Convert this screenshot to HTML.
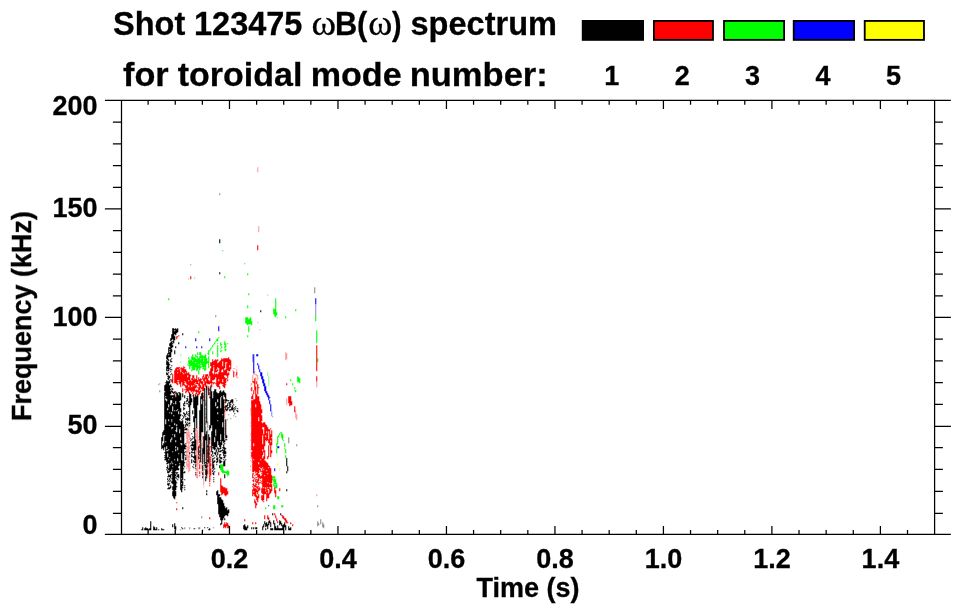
<!DOCTYPE html>
<html lang="en"><head><meta charset="utf-8"><title>Shot 123475 spectrum</title>
<style>html,body{margin:0;padding:0;background:#fff}svg{display:block}</style></head>
<body>
<svg width="963" height="615" viewBox="0 0 963 615">
<rect width="963" height="615" fill="#fff"/>
<g id="spectrum" transform="translate(0.25 0.2)"><path d="M158.5 384v1M159.5 383v1M159.5 390v2M171.5 420v7M171.5 428v4M171.5 433v2M171.5 436v2M171.5 439v2M171.5 442v6M171.5 451v7M171.5 459v6M171.5 466v4M180.5 529v1M184.5 527v2M189.5 527v2M190.5 264v1M193.5 528v1M198.5 527v2M199.5 527v2M201.5 516v2M202.5 529v2M204.5 464v1M204.5 466v1M204.5 468v2M205.5 400v1M205.5 402v4M205.5 408v2M205.5 411v1M205.5 413v2M205.5 416v3M205.5 420v5M205.5 426v8M205.5 435v5M207.5 421v7M207.5 429v4M207.5 434v7M207.5 442v1M207.5 444v9M207.5 454v4M207.5 459v3M207.5 463v4M207.5 468v2M213.5 527v1M215.5 315v2M215.5 429v1M215.5 433v1M215.5 435v1M215.5 447v1M215.5 450v2M219.5 193v2M227.5 407v1M227.5 419v1M228.5 400v1M228.5 414v1M229.5 406v2M230.5 402v1M230.5 404v1M230.5 410v1M230.5 418v1M231.5 408v1M232.5 403v1M232.5 409v1M233.5 415v1M235.5 398v1M235.5 416v1M236.5 400v1M237.5 411v1M288.5 437v6M296.5 444v2M314.5 287v6M317.5 505v2M317.5 521v5M318.5 523v2M320.5 519v5M322.5 522v5M323.5 524v4" stroke="#8a8a8a" stroke-width="1.06" fill="none"/>
<path d="M186.5 431v8M186.5 440v4M186.5 445v3M186.5 449v11M186.5 461v5M186.5 467v2M187.5 428v3M187.5 432v11M187.5 446v7M187.5 454v4M187.5 459v3M187.5 463v4M188.5 426v2M188.5 429v8M188.5 439v1M188.5 441v12M188.5 455v17M189.5 432v1M189.5 434v6M189.5 441v3M189.5 446v3M189.5 450v1M189.5 454v4M189.5 459v1M189.5 461v10M195.5 428v3M195.5 433v5M195.5 451v1M195.5 453v1M195.5 463v1M195.5 467v1M195.5 470v1M195.5 473v1M195.5 475v1M196.5 428v11M196.5 440v25M196.5 468v3M196.5 472v6M197.5 428v1M197.5 430v15M197.5 446v7M197.5 454v19M197.5 474v4M198.5 436v1M198.5 439v2M198.5 442v1M198.5 445v1M198.5 455v1M198.5 459v1M198.5 463v1M198.5 468v1M201.5 432v5M201.5 440v1M201.5 443v3M201.5 447v2M201.5 450v1M201.5 453v4M201.5 458v1M201.5 461v2M201.5 464v5M201.5 471v2M202.5 436v4M202.5 441v7M203.5 455v2M203.5 458v4M203.5 464v2M203.5 467v1M203.5 469v1M203.5 471v6M203.5 478v7M203.5 486v1M210.5 455v7M210.5 463v8M210.5 474v3M210.5 478v2M224.5 412v6M224.5 420v1M224.5 423v1M224.5 425v1M224.5 427v3M224.5 431v1M224.5 433v2M224.5 438v2M232.5 370v1M233.5 368v1M234.5 368v1M234.5 372v1M235.5 374v2M236.5 366v1M236.5 369v9M237.5 377v1M250.5 383v1M250.5 385v1M250.5 388v2M250.5 408v3M250.5 412v1M250.5 414v1M250.5 422v1M250.5 425v1M250.5 433v1M250.5 435v1M250.5 439v2M250.5 446v1M250.5 449v1M250.5 452v1M250.5 455v1M250.5 457v1M250.5 460v1M250.5 465v2M250.5 469v1M251.5 383v2M251.5 387v1M251.5 393v1M251.5 401v3M251.5 414v1M251.5 431v3M251.5 437v1M251.5 443v1M251.5 448v1M251.5 451v3M251.5 455v1M251.5 457v2M251.5 461v1M252.5 375v7M253.5 373v2M254.5 371v3M254.5 382v4M255.5 374v1M255.5 377v7M256.5 374v2M257.5 167v5M257.5 322v1M257.5 375v5M257.5 384v3M258.5 226v6M259.5 329v1M285.5 352v8M286.5 353v6M286.5 398v7M295.5 410v8M296.5 414v6M316.5 381v6M316.5 494v2" stroke="#ff9a9a" stroke-width="1.06" fill="none"/>
<path d="M252.5 354v8M270.5 410v1M271.5 411v5M272.5 416v1M315.5 304v11" stroke="#8a8aff" stroke-width="1.06" fill="none"/>
<path d="M180.5 354v2M180.5 361v2M188.5 278v2M194.5 277v2M267.5 294v2M267.5 372v4M268.5 376v10M276.5 317v1M277.5 317v1" stroke="#8aff8a" stroke-width="1.06" fill="none"/>
<path d="M256.5 493v2M274.5 439v1M277.5 463v2M279.5 468v2" stroke="#ff0" stroke-width="1.06" fill="none"/>
<path d="M185.5 346v2M195.5 338v3M196.5 346v2M201.5 346v2M209.5 338v3M218.5 326v5M253.5 354v19M256.5 354v2M257.5 354v2M257.5 363v2M258.5 365v4M259.5 369v3M260.5 372v4M261.5 372v7M262.5 376v7M263.5 379v7M264.5 383v8M265.5 386v7M266.5 391v4M267.5 393v4M268.5 395v5M268.5 505v1M269.5 397v1M269.5 400v4M270.5 404v7M274.5 468v3M277.5 446v2M278.5 446v2M315.5 298v6" stroke="#00f" stroke-width="1.06" fill="none"/>
<path d="M168.5 298v2M187.5 364v1M188.5 357v2M188.5 360v4M188.5 365v1M189.5 359v10M190.5 360v6M191.5 356v10M191.5 367v1M191.5 369v2M192.5 354v6M192.5 361v9M193.5 357v13M194.5 357v13M195.5 354v3M195.5 358v4M195.5 363v4M196.5 356v1M196.5 359v12M197.5 352v3M197.5 356v14M198.5 331v2M198.5 358v6M198.5 365v3M198.5 370v4M199.5 352v3M199.5 356v14M200.5 352v6M200.5 359v4M200.5 364v1M200.5 366v2M201.5 355v10M201.5 366v1M202.5 355v12M202.5 368v1M203.5 356v2M203.5 359v1M203.5 361v8M204.5 355v12M204.5 368v3M205.5 354v16M206.5 358v6M207.5 353v1M207.5 361v2M208.5 350v5M208.5 356v12M209.5 350v1M210.5 348v2M211.5 347v1M212.5 345v2M212.5 351v3M213.5 344v1M214.5 342v2M215.5 341v1M216.5 339v2M217.5 338v3M217.5 343v1M217.5 345v12M218.5 337v1M220.5 342v4M220.5 348v1M220.5 350v2M220.5 464v6M221.5 344v1M221.5 346v2M221.5 350v1M221.5 464v8M222.5 250v1M222.5 464v9M223.5 470v3M224.5 276v2M224.5 341v4M224.5 346v2M224.5 349v1M224.5 471v2M225.5 343v4M225.5 348v3M225.5 471v2M226.5 471v3M227.5 343v1M227.5 470v6M228.5 471v4M244.5 263v1M245.5 317v6M246.5 317v7M247.5 273v2M247.5 305v3M247.5 317v8M247.5 335v2M248.5 293v2M248.5 319v5M248.5 326v6M249.5 318v6M250.5 317v7M251.5 321v4M265.5 507v2M272.5 476v4M273.5 308v6M273.5 476v2M273.5 479v3M273.5 483v3M273.5 505v4M274.5 309v7M274.5 476v8M274.5 485v2M274.5 488v1M274.5 505v4M275.5 298v19M275.5 479v5M275.5 485v3M276.5 312v3M276.5 443v4M276.5 448v5M276.5 483v5M277.5 436v8M277.5 496v3M278.5 435v2M278.5 496v3M279.5 433v2M280.5 432v1M281.5 432v6M281.5 505v2M282.5 434v6M282.5 505v2M283.5 440v1M284.5 443v4M284.5 448v1M285.5 316v2M285.5 449v4M285.5 455v3M286.5 458v1M290.5 379v2M292.5 383v2M294.5 387v2M294.5 390v1M295.5 309v2M295.5 390v2M297.5 376v6M298.5 377v5M299.5 378v5M315.5 315v6M316.5 330v13M317.5 358v4" stroke="#0f0" stroke-width="1.06" fill="none"/>
<path d="M171.5 379v3M172.5 374v9M174.5 370v13M175.5 368v15M175.5 391v3M175.5 396v1M176.5 336v3M176.5 367v17M176.5 502v1M176.5 508v2M177.5 336v1M177.5 367v2M177.5 370v2M177.5 373v7M177.5 381v1M177.5 383v2M178.5 335v1M178.5 367v13M178.5 381v1M179.5 367v1M179.5 369v15M180.5 368v1M180.5 372v15M181.5 367v15M182.5 368v4M182.5 373v13M182.5 388v4M183.5 366v7M183.5 374v11M184.5 367v1M184.5 369v12M184.5 382v1M184.5 384v2M184.5 389v1M185.5 369v3M185.5 373v9M185.5 385v3M185.5 389v1M185.5 391v2M186.5 371v13M186.5 385v7M187.5 373v2M187.5 377v14M188.5 372v8M188.5 381v4M188.5 387v6M189.5 374v16M189.5 392v2M189.5 395v2M190.5 276v3M190.5 375v1M190.5 380v11M190.5 394v1M191.5 378v2M191.5 381v4M191.5 387v5M192.5 375v16M192.5 392v2M192.5 395v1M193.5 375v3M193.5 379v6M193.5 386v6M194.5 378v5M194.5 384v7M195.5 379v3M195.5 383v1M195.5 385v3M195.5 390v2M195.5 393v3M196.5 375v9M196.5 385v2M196.5 389v5M197.5 380v4M197.5 387v1M197.5 390v2M198.5 377v4M198.5 383v3M198.5 387v8M199.5 379v11M199.5 391v3M199.5 440v3M199.5 444v4M199.5 450v3M199.5 454v2M199.5 457v2M199.5 460v3M199.5 464v5M199.5 471v3M199.5 475v1M200.5 378v5M200.5 385v3M200.5 390v2M201.5 379v1M201.5 381v3M201.5 387v2M202.5 376v3M202.5 381v10M203.5 374v3M203.5 378v3M203.5 384v7M203.5 393v1M203.5 395v3M203.5 399v2M204.5 377v8M204.5 388v1M205.5 374v5M205.5 381v6M206.5 374v9M206.5 385v5M206.5 464v1M206.5 468v1M206.5 476v1M207.5 374v2M207.5 378v6M207.5 445v1M207.5 449v4M207.5 454v4M207.5 459v1M207.5 461v1M207.5 463v1M207.5 465v2M207.5 470v4M208.5 376v2M208.5 380v4M208.5 386v3M209.5 371v5M209.5 381v3M209.5 389v2M209.5 392v3M209.5 396v1M209.5 440v4M209.5 446v5M209.5 452v3M209.5 456v26M209.5 483v1M209.5 485v1M209.5 517v2M210.5 362v4M210.5 368v15M210.5 385v1M210.5 446v1M210.5 451v1M210.5 457v1M210.5 459v1M210.5 461v1M210.5 463v3M210.5 468v7M211.5 362v25M212.5 359v12M212.5 373v7M212.5 382v1M213.5 361v4M213.5 366v1M213.5 374v6M213.5 382v2M214.5 360v19M214.5 382v1M215.5 359v13M215.5 374v3M215.5 383v1M216.5 360v9M216.5 370v2M216.5 373v13M217.5 359v2M217.5 363v4M217.5 369v2M217.5 374v13M218.5 362v6M218.5 372v7M218.5 381v6M218.5 472v3M219.5 361v23M219.5 386v3M220.5 360v23M220.5 478v14M221.5 358v12M221.5 372v12M221.5 485v10M222.5 359v2M222.5 366v3M222.5 372v7M222.5 382v2M222.5 385v1M222.5 486v8M223.5 358v29M223.5 487v6M223.5 524v4M224.5 358v10M224.5 370v5M224.5 377v11M224.5 399v2M224.5 402v1M224.5 406v2M224.5 409v3M224.5 487v8M224.5 522v5M225.5 358v4M225.5 369v6M225.5 378v5M225.5 384v1M225.5 488v8M225.5 524v4M226.5 358v4M226.5 363v13M226.5 378v1M226.5 488v7M226.5 522v4M227.5 358v12M227.5 373v5M227.5 379v2M227.5 491v3M227.5 523v5M228.5 357v14M228.5 372v3M228.5 525v3M229.5 359v6M229.5 367v4M230.5 360v9M233.5 371v6M236.5 372v3M244.5 519v2M251.5 387v4M251.5 396v3M251.5 400v50M251.5 452v5M252.5 381v1M252.5 394v5M252.5 400v72M252.5 473v5M252.5 480v1M252.5 484v1M252.5 486v1M252.5 489v7M252.5 522v2M253.5 381v2M253.5 390v4M253.5 399v44M253.5 446v13M253.5 460v12M253.5 473v1M253.5 477v1M253.5 479v3M253.5 483v3M253.5 487v4M253.5 492v2M254.5 378v12M254.5 399v72M254.5 475v1M254.5 478v1M254.5 485v2M254.5 488v8M254.5 499v4M255.5 386v18M255.5 407v66M255.5 474v1M255.5 477v1M255.5 479v3M255.5 483v4M255.5 488v9M255.5 501v7M255.5 522v2M256.5 381v3M256.5 394v78M256.5 473v2M256.5 477v1M256.5 479v1M256.5 481v2M256.5 484v1M256.5 486v2M256.5 489v3M256.5 495v5M256.5 503v2M257.5 245v5M257.5 384v10M257.5 396v81M257.5 479v4M257.5 486v3M257.5 490v4M257.5 496v6M258.5 387v1M258.5 396v21M258.5 421v41M258.5 464v9M258.5 474v7M258.5 482v3M258.5 486v1M258.5 488v3M258.5 494v4M259.5 401v66M259.5 468v2M259.5 474v4M259.5 482v1M259.5 487v3M260.5 404v55M260.5 460v8M260.5 469v3M260.5 476v3M260.5 480v1M260.5 482v1M261.5 409v4M261.5 415v6M261.5 422v46M261.5 471v1M261.5 473v1M261.5 475v3M261.5 481v1M261.5 483v1M261.5 488v5M261.5 495v5M262.5 423v4M262.5 429v6M262.5 444v5M262.5 451v4M262.5 458v9M262.5 468v26M262.5 495v6M263.5 422v5M263.5 434v18M263.5 456v13M263.5 470v17M263.5 488v12M263.5 501v1M264.5 422v24M264.5 450v9M264.5 460v15M264.5 476v18M264.5 515v4M265.5 424v11M265.5 437v3M265.5 461v26M265.5 489v1M265.5 491v3M266.5 425v6M266.5 433v8M266.5 462v8M266.5 471v21M266.5 493v8M267.5 427v13M267.5 456v3M267.5 463v10M267.5 474v8M267.5 483v4M267.5 488v1M267.5 490v8M267.5 515v4M268.5 429v2M268.5 439v4M268.5 445v12M268.5 465v2M268.5 468v21M268.5 493v5M268.5 517v3M269.5 429v16M269.5 466v17M269.5 484v3M269.5 488v6M270.5 428v1M270.5 434v6M270.5 442v15M270.5 468v19M270.5 489v4M271.5 430v7M271.5 438v7M271.5 450v3M271.5 475v8M271.5 484v7M274.5 487v6M274.5 513v2M275.5 490v7M275.5 515v3M276.5 518v3M277.5 521v2M279.5 488v3M281.5 515v1M282.5 515v3M283.5 516v3M284.5 518v2M285.5 518v4M286.5 383v2M286.5 520v3M287.5 522v1M288.5 396v7M289.5 396v10M290.5 396v9M290.5 522v2M291.5 401v4M292.5 524v2M294.5 406v6M316.5 345v26M316.5 376v5" stroke="#f00" stroke-width="1.06" fill="none"/>
<path d="M141.5 529v1M142.5 527v3M144.5 528v2M145.5 527v3M146.5 528v2M147.5 528v2M148.5 529v1M149.5 528v2M150.5 521v9M153.5 526v4M154.5 527v3M155.5 529v1M156.5 527v3M158.5 529v1M161.5 437v12M161.5 528v2M162.5 432v9M162.5 445v3M162.5 529v1M163.5 430v5M163.5 443v7M163.5 529v1M164.5 385v6M164.5 392v43M164.5 436v11M164.5 452v1M164.5 455v1M164.5 457v1M164.5 459v1M165.5 382v1M165.5 384v12M165.5 397v1M165.5 400v19M165.5 424v17M165.5 442v18M166.5 355v4M166.5 360v5M166.5 366v5M166.5 372v3M166.5 380v19M166.5 401v45M166.5 449v1M166.5 451v11M166.5 463v1M166.5 467v1M166.5 469v1M167.5 353v7M167.5 361v8M167.5 370v1M167.5 373v2M167.5 376v1M167.5 378v1M167.5 381v27M167.5 410v40M167.5 451v2M167.5 457v7M167.5 465v4M167.5 470v3M167.5 476v1M167.5 478v2M167.5 481v1M167.5 483v2M167.5 488v1M168.5 347v7M168.5 355v2M168.5 359v2M168.5 362v9M168.5 372v1M168.5 375v5M168.5 381v23M168.5 407v12M168.5 421v28M168.5 450v9M168.5 460v3M168.5 468v2M168.5 471v2M168.5 474v3M168.5 480v1M168.5 483v3M168.5 487v2M169.5 343v3M169.5 347v2M169.5 350v1M169.5 352v5M169.5 364v1M169.5 368v1M169.5 376v2M169.5 380v3M169.5 385v27M169.5 413v12M169.5 426v31M169.5 458v14M169.5 475v2M169.5 478v2M169.5 481v1M169.5 483v1M169.5 487v2M170.5 338v3M170.5 342v15M170.5 359v3M170.5 367v1M170.5 369v1M170.5 371v1M170.5 374v1M170.5 379v1M170.5 384v3M170.5 389v1M170.5 391v3M170.5 395v5M170.5 405v34M170.5 442v21M170.5 464v7M170.5 474v4M170.5 480v1M170.5 485v3M171.5 334v6M171.5 341v7M171.5 349v3M171.5 358v1M171.5 361v1M171.5 365v1M171.5 369v1M171.5 373v1M171.5 386v1M171.5 388v1M171.5 390v2M171.5 395v5M171.5 403v9M171.5 414v5M171.5 422v5M171.5 429v8M171.5 440v21M171.5 463v6M171.5 472v1M171.5 474v1M171.5 478v1M171.5 481v2M172.5 328v11M172.5 341v1M172.5 343v1M172.5 345v2M172.5 388v2M172.5 391v2M172.5 395v2M172.5 398v8M172.5 411v16M172.5 428v6M172.5 435v16M172.5 452v11M172.5 464v2M172.5 467v17M172.5 486v4M172.5 491v5M172.5 524v3M173.5 328v15M173.5 392v2M173.5 395v8M173.5 404v11M173.5 416v82M174.5 329v1M174.5 331v3M174.5 336v4M174.5 350v4M174.5 391v2M174.5 394v16M174.5 411v12M174.5 425v9M174.5 437v22M174.5 460v39M174.5 523v6M175.5 328v7M175.5 346v2M175.5 397v4M175.5 404v26M175.5 431v9M175.5 442v4M175.5 448v1M175.5 451v13M175.5 465v6M175.5 472v1M175.5 474v2M175.5 477v1M175.5 480v10M175.5 491v5M175.5 526v4M176.5 329v4M176.5 392v18M176.5 411v13M176.5 426v1M176.5 432v38M176.5 472v2M176.5 476v1M176.5 478v1M176.5 482v1M176.5 486v1M177.5 328v4M177.5 393v16M177.5 410v37M177.5 450v8M177.5 461v9M177.5 472v1M177.5 474v3M177.5 479v1M178.5 342v2M178.5 392v1M178.5 395v16M178.5 414v39M178.5 454v12M178.5 468v2M178.5 474v4M179.5 392v9M179.5 402v17M179.5 420v9M179.5 433v30M179.5 464v1M180.5 393v7M180.5 408v4M180.5 414v2M180.5 421v16M180.5 440v3M180.5 444v46M181.5 419v1M181.5 421v22M181.5 445v8M181.5 460v18M181.5 479v4M181.5 484v8M181.5 527v1M182.5 333v2M182.5 393v4M182.5 415v1M182.5 418v1M182.5 420v39M182.5 460v20M182.5 481v5M182.5 487v1M182.5 507v2M182.5 528v1M183.5 403v3M183.5 407v3M183.5 412v2M183.5 416v2M183.5 424v42M183.5 468v1M183.5 472v1M184.5 395v3M184.5 401v3M184.5 405v1M184.5 408v1M184.5 413v3M184.5 427v1M184.5 429v1M184.5 432v1M184.5 444v5M184.5 452v1M184.5 454v1M184.5 462v1M184.5 466v1M184.5 471v2M184.5 479v1M184.5 485v1M184.5 487v1M184.5 489v1M185.5 414v1M185.5 416v1M185.5 418v2M185.5 421v2M185.5 424v3M185.5 428v2M185.5 432v1M185.5 443v1M185.5 445v2M185.5 448v1M185.5 451v1M185.5 455v1M185.5 457v3M186.5 398v1M186.5 400v2M186.5 403v1M186.5 411v3M186.5 418v2M186.5 423v2M186.5 428v2M187.5 396v1M187.5 398v3M187.5 403v1M187.5 414v1M187.5 417v4M187.5 422v1M187.5 424v2M188.5 401v2M188.5 404v3M188.5 411v1M188.5 413v1M188.5 415v1M188.5 418v2M188.5 423v1M189.5 393v28M189.5 422v2M189.5 425v1M189.5 452v2M190.5 394v11M190.5 438v1M190.5 440v1M190.5 445v1M191.5 398v4M191.5 433v1M191.5 439v1M191.5 442v1M191.5 444v2M191.5 447v3M191.5 451v2M191.5 454v3M191.5 459v4M192.5 410v4M192.5 436v1M192.5 438v1M192.5 441v5M192.5 448v3M192.5 452v1M192.5 456v1M192.5 466v1M193.5 394v14M193.5 416v6M193.5 428v1M193.5 430v2M193.5 437v1M193.5 441v2M193.5 444v6M193.5 452v1M193.5 456v2M193.5 460v2M193.5 464v1M193.5 467v1M194.5 397v63M194.5 461v2M194.5 528v1M195.5 395v23M195.5 439v11M195.5 455v8M195.5 464v3M195.5 468v1M195.5 472v1M195.5 474v1M196.5 396v32M197.5 394v11M198.5 446v9M198.5 456v3M199.5 410v30M200.5 396v66M201.5 393v6M201.5 404v28M202.5 392v40M202.5 448v16M202.5 465v6M202.5 472v3M202.5 476v2M203.5 436v18M204.5 388v76M204.5 465v1M204.5 527v1M205.5 434v6M205.5 462v1M205.5 464v4M205.5 469v6M205.5 476v5M206.5 386v37M206.5 431v33M206.5 465v3M206.5 469v7M206.5 477v1M206.5 490v2M206.5 493v2M207.5 446v1M207.5 453v1M207.5 460v1M207.5 527v1M208.5 388v7M208.5 434v29M208.5 529v1M209.5 397v1M209.5 425v5M209.5 437v3M209.5 528v2M210.5 386v42M211.5 391v34M211.5 431v21M211.5 454v2M212.5 398v48M212.5 447v1M212.5 451v3M212.5 456v1M212.5 458v11M212.5 470v2M212.5 473v1M213.5 391v58M213.5 455v1M213.5 458v1M213.5 461v2M213.5 464v4M213.5 469v1M213.5 472v3M213.5 477v1M213.5 479v1M213.5 481v1M214.5 389v48M214.5 442v8M214.5 452v2M214.5 457v1M214.5 460v2M214.5 468v1M214.5 471v1M215.5 389v13M215.5 406v23M215.5 436v11M215.5 448v1M215.5 452v3M216.5 392v15M216.5 408v39M216.5 449v3M216.5 455v2M216.5 458v2M216.5 461v2M216.5 464v1M216.5 491v4M217.5 393v6M217.5 402v4M217.5 408v4M217.5 414v6M217.5 421v20M217.5 447v2M217.5 452v3M217.5 457v5M217.5 490v14M218.5 393v52M218.5 448v4M218.5 494v20M219.5 239v4M219.5 272v2M219.5 391v56M219.5 448v1M219.5 451v1M219.5 454v4M219.5 459v4M219.5 465v3M219.5 494v2M219.5 497v20M220.5 390v7M220.5 408v26M220.5 440v1M220.5 442v7M220.5 450v2M220.5 454v1M220.5 457v2M220.5 460v3M220.5 497v23M220.5 523v2M221.5 392v4M221.5 397v48M221.5 450v1M221.5 457v2M221.5 461v1M221.5 499v25M222.5 391v23M222.5 415v7M222.5 427v14M222.5 447v1M222.5 449v2M222.5 452v1M222.5 500v20M223.5 390v5M223.5 399v44M223.5 444v5M223.5 450v6M223.5 457v1M223.5 459v1M223.5 461v5M223.5 503v15M224.5 392v5M224.5 440v2M224.5 443v1M224.5 447v7M224.5 455v3M224.5 460v6M224.5 474v4M224.5 506v10M224.5 518v2M225.5 393v10M225.5 405v5M225.5 419v19M225.5 439v1M225.5 448v1M225.5 451v3M225.5 455v1M225.5 459v1M225.5 508v7M226.5 399v2M226.5 405v2M226.5 409v2M226.5 435v3M226.5 439v1M226.5 507v8M227.5 400v1M227.5 403v3M227.5 407v3M227.5 510v6M228.5 400v1M228.5 402v1M228.5 407v1M228.5 509v4M229.5 402v5M229.5 409v2M230.5 400v3M230.5 404v1M230.5 406v1M230.5 409v1M231.5 399v3M231.5 407v3M232.5 399v4M232.5 405v5M233.5 404v1M233.5 408v1M233.5 410v2M234.5 407v1M234.5 409v1M234.5 413v1M235.5 406v1M235.5 408v1M236.5 410v1M237.5 408v1M237.5 410v2M243.5 525v4M244.5 524v6M245.5 526v4M246.5 527v3M247.5 525v3M251.5 527v2M253.5 527v2M255.5 527v2M256.5 527v2M260.5 310v2M262.5 526v4M263.5 524v3M264.5 521v3M265.5 523v4M265.5 528v2M266.5 522v4M267.5 524v5M268.5 521v4M269.5 520v3M270.5 522v5M270.5 528v2M271.5 528v2M272.5 513v2M272.5 528v2M273.5 520v4M274.5 523v7M275.5 526v4M276.5 528v2M277.5 525v5M278.5 528v2M279.5 520v5M279.5 528v2M280.5 513v2M280.5 521v3M280.5 528v2M281.5 523v3M281.5 528v2M282.5 525v5M283.5 524v6M284.5 522v5M285.5 525v5M286.5 458v8M286.5 471v2M286.5 489v2M287.5 466v5M288.5 526v4M289.5 528v2M290.5 527v3" stroke="#000" stroke-width="1.06" fill="none"/></g>
<path d="M104.9 100.46H950.86M104.9 534.44H950.86M121.5 100.46V534.44M934.6 100.46V534.44M148.12 100.46v4.4M148.12 534.44v-4.4M175.24 100.46v4.4M175.24 534.44v-4.4M202.36 100.46v4.4M202.36 534.44v-4.4M229.48 100.46v8.5M229.48 534.44v-8.5M256.61 100.46v4.4M256.61 534.44v-4.4M283.73 100.46v4.4M283.73 534.44v-4.4M310.85 100.46v4.4M310.85 534.44v-4.4M337.97 100.46v8.5M337.97 534.44v-8.5M365.09 100.46v4.4M365.09 534.44v-4.4M392.21 100.46v4.4M392.21 534.44v-4.4M419.33 100.46v4.4M419.33 534.44v-4.4M446.45 100.46v8.5M446.45 534.44v-8.5M473.57 100.46v4.4M473.57 534.44v-4.4M500.69 100.46v4.4M500.69 534.44v-4.4M527.82 100.46v4.4M527.82 534.44v-4.4M554.94 100.46v8.5M554.94 534.44v-8.5M582.06 100.46v4.4M582.06 534.44v-4.4M609.18 100.46v4.4M609.18 534.44v-4.4M636.30 100.46v4.4M636.30 534.44v-4.4M663.42 100.46v8.5M663.42 534.44v-8.5M690.54 100.46v4.4M690.54 534.44v-4.4M717.66 100.46v4.4M717.66 534.44v-4.4M744.78 100.46v4.4M744.78 534.44v-4.4M771.90 100.46v8.5M771.90 534.44v-8.5M799.02 100.46v4.4M799.02 534.44v-4.4M826.15 100.46v4.4M826.15 534.44v-4.4M853.27 100.46v4.4M853.27 534.44v-4.4M880.39 100.46v8.5M880.39 534.44v-8.5M907.51 100.46v4.4M907.51 534.44v-4.4M121.5 513.30h-8.6M934.6 513.30h8.299999999999999M121.5 491.40h-8.6M934.6 491.40h8.299999999999999M121.5 469.34h-8.6M934.6 469.34h8.299999999999999M121.5 447.64h-8.6M934.6 447.64h8.299999999999999M121.5 426.40h-16.6M934.6 426.40h16.3M121.5 404.25h-8.6M934.6 404.25h8.299999999999999M121.5 382.55h-8.6M934.6 382.55h8.299999999999999M121.5 360.85h-8.6M934.6 360.85h8.299999999999999M121.5 339.15h-8.6M934.6 339.15h8.299999999999999M121.5 317.45h-16.6M934.6 317.45h16.3M121.5 295.75h-8.6M934.6 295.75h8.299999999999999M121.5 274.05h-8.6M934.6 274.05h8.299999999999999M121.5 252.35h-8.6M934.6 252.35h8.299999999999999M121.5 230.65h-8.6M934.6 230.65h8.299999999999999M121.5 208.95h-16.6M934.6 208.95h16.3M121.5 187.26h-8.6M934.6 187.26h8.299999999999999M121.5 165.56h-8.6M934.6 165.56h8.299999999999999M121.5 143.86h-8.6M934.6 143.86h8.299999999999999M121.5 122.16h-8.6M934.6 122.16h8.299999999999999" stroke="#000" stroke-width="1.25" fill="none"/>
<g font-family="'Liberation Sans', Arial, Helvetica, sans-serif" font-weight="bold" fill="#000" stroke="#000" stroke-width="0.3" opacity="0.999">
<text transform="translate(113.01 34.7) scale(0.9861 1)" font-size="33">Shot</text>
<text transform="translate(194.03 34.7) scale(0.9846 1)" font-size="33">123475</text>
<text transform="translate(311.55 35.0) scale(1.0361 1)" font-size="36" font-family="'Liberation Serif', 'DejaVu Serif', serif" font-weight="normal">ω</text>
<text transform="translate(334.90 34.6) scale(0.9323 1)" font-size="33">B(</text>
<text transform="translate(368.37 35.0) scale(1.0169 1)" font-size="36" font-family="'Liberation Serif', 'DejaVu Serif', serif" font-weight="normal">ω</text>
<text transform="translate(391.98 34.6) scale(0.8667 1)" font-size="33">)</text>
<text transform="translate(410.47 34.7) scale(0.9866 1)" font-size="33">spectrum</text>
<text transform="translate(122.99 85.6) scale(1.0159 1)" font-size="33.75">for</text>
<text transform="translate(177.80 85.6) scale(1.0070 1)" font-size="33.75">toroidal</text>
<text transform="translate(310.73 85.6) scale(1.0104 1)" font-size="33.75">mode</text>
<text transform="translate(409.70 85.6) scale(1.0232 1)" font-size="33.75">number:</text>
<rect x="582.72" y="20.93" width="60.35" height="18.95" fill="#000" stroke="#000" stroke-width="1.85"/>
<text x="611.70" y="85.4" font-size="27" text-anchor="middle">1</text>
<rect x="653.92" y="20.93" width="59.05" height="18.95" fill="#f00" stroke="#000" stroke-width="1.85"/>
<text x="682.15" y="85.4" font-size="27" text-anchor="middle">2</text>
<rect x="724.02" y="20.93" width="60.05" height="18.95" fill="#0f0" stroke="#000" stroke-width="1.85"/>
<text x="752.60" y="85.4" font-size="27" text-anchor="middle">3</text>
<rect x="793.72" y="20.93" width="60.35" height="18.95" fill="#00f" stroke="#000" stroke-width="1.85"/>
<text x="823.05" y="85.4" font-size="27" text-anchor="middle">4</text>
<rect x="864.72" y="20.93" width="59.25" height="18.95" fill="#ff0" stroke="#000" stroke-width="1.85"/>
<text x="893.50" y="85.4" font-size="27" text-anchor="middle">5</text>
<text x="97.6" y="534.44" font-size="27" text-anchor="end">0</text>
<text x="97.6" y="433.60" font-size="27" text-anchor="end">50</text>
<text x="97.6" y="325.75" font-size="27" text-anchor="end">100</text>
<text x="97.6" y="217.25" font-size="27" text-anchor="end">150</text>
<text x="97.6" y="114.60" font-size="27" text-anchor="end">200</text>
<text x="229.48" y="568" font-size="27" text-anchor="middle">0.2</text>
<text x="337.97" y="568" font-size="27" text-anchor="middle">0.4</text>
<text x="446.45" y="568" font-size="27" text-anchor="middle">0.6</text>
<text x="554.94" y="568" font-size="27" text-anchor="middle">0.8</text>
<text x="663.42" y="568" font-size="27" text-anchor="middle">1.0</text>
<text x="771.90" y="568" font-size="27" text-anchor="middle">1.2</text>
<text x="880.39" y="568" font-size="27" text-anchor="middle">1.4</text>
<text x="528" y="597" font-size="27" text-anchor="middle">Time (s)</text>
<text transform="translate(31 316.1) rotate(-90)" font-size="27" text-anchor="middle">Frequency (kHz)</text>
</g>
</svg>
</body></html>
